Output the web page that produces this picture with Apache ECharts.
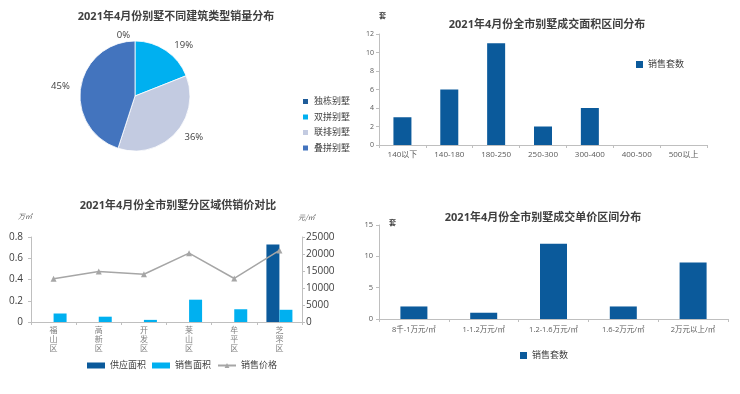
<!DOCTYPE html>
<html><head><meta charset="utf-8">
<script src="https://cdn.jsdelivr.net/npm/echarts@6/dist/echarts.min.js"></script>
<style>html,body{margin:0;padding:0;background:#fff}#c{width:740px;height:394px}</style>
</head><body><div id="c"></div>
<script>
const pieNames = ['独栋别墅','双拼别墅','联排别墅','叠拼别墅'];
const pieValues = [0, 19, 36, 45];
const areaCats = ['140以下','140-180','180-250','250-300','300-400','400-500','500以上'];
const areaSales = [3, 6, 11, 2, 4, 0, 0];
const districts = ['福山区','高新区','开发区','莱山区','牟平区','芝罘区'];
const supplyArea = [0, 0, 0, 0, 0, 0.73];
const salesArea = [0.08, 0.05, 0.02, 0.21, 0.12, 0.115];
const salesPrice = [12700, 14850, 14050, 20250, 12800, 21050];
const priceCats = ['8千-1万元/㎡','1-1.2万元/㎡','1.2-1.6万元/㎡','1.6-2万元/㎡','2万元以上/㎡'];
const priceSales = [2, 1, 12, 2, 9];

const FF = '"Open Sans","Noto Sans CJK SC",sans-serif';
const DARK = '#0b5a9b', CYAN = '#00b0f0', GREY = '#a6a6a6', AX = '#bfbfbf', TXT = '#595959';
const pieColors = ['#1f5c99', '#00b0f0', '#c3cbe1', '#4374be'];

const chart = echarts.init(document.getElementById('c'));
const titleStyle = {fontSize: 11, fontWeight: 'bold', color: '#404040', fontFamily: FF};
const axisLine = {show: true, lineStyle: {color: AX}};
const axisTick = {show: true, lineStyle: {color: AX}, length: 3};

chart.setOption({
  backgroundColor: '#fff',
  textStyle: {fontFamily: FF},
  title: [
    {text: '2021年4月份别墅不同建筑类型销量分布', left: 171, top: 6, textAlign: 'center', textStyle: titleStyle},
    {text: '2021年4月份全市别墅成交面积区间分布', left: 542, top: 14, textAlign: 'center', textStyle: titleStyle},
    {text: '2021年4月份全市别墅分区域供销价对比', left: 173, top: 195, textAlign: 'center', textStyle: titleStyle},
    {text: '2021年4月份全市别墅成交单价区间分布', left: 538, top: 207, textAlign: 'center', textStyle: titleStyle}
  ],
  graphic: [
    {type: 'text', left: 379, top: 12, style: {text: '套', fill: '#404040', font: 'bold 7px "Noto Sans CJK SC"'}},
    {type: 'text', left: 389, top: 219, style: {text: '套', fill: '#404040', font: 'bold 7px "Noto Sans CJK SC"'}},
    {type: 'text', left: 18, top: 213, style: {text: '万㎡', fill: '#595959', font: 'italic 7px "Noto Sans CJK SC"'}},
    {type: 'text', left: 298, top: 214, style: {text: '元/㎡', fill: '#595959', font: 'italic 7px "Noto Sans CJK SC"'}}
  ],
  legend: [
    {data: pieNames, orient: 'vertical', left: 296, top: 92, itemWidth: 7, itemHeight: 7, itemGap: 6.5,
     icon: 'rect', textStyle: {fontSize: 9, color: '#404040', fontFamily: FF}},
    {data: ['销售套数'], left: 631, top: 55, itemWidth: 7, itemHeight: 7, icon: 'rect',
     textStyle: {fontSize: 9, color: '#404040', fontFamily: FF}},
    {data: [{name: '供应面积', icon: 'rect'}, {name: '销售面积', icon: 'rect'}, {name: '销售价格'}],
     left: 82, top: 356, itemWidth: 18, itemHeight: 6, itemGap: 6,
     textStyle: {fontSize: 9, color: '#404040', fontFamily: FF}},
    {data: [{name: '销售套数 ', icon: 'rect'}], left: 515, top: 346, itemWidth: 7, itemHeight: 7,
     textStyle: {fontSize: 9, color: '#404040', fontFamily: FF}}
  ],
  grid: [
    {left: 379, right: 33, top: 34, bottom: 249},
    {left: 31, right: 438, top: 237, bottom: 72},
    {left: 379, right: 12, top: 225, bottom: 75}
  ],
  xAxis: [
    {type: 'category', gridIndex: 0, data: areaCats, axisLine: axisLine, axisTick: {show: true, lineStyle: {color: AX}, length: 3},
     axisLabel: {fontSize: 8, color: TXT, margin: 6, interval: 0}},
    {type: 'category', gridIndex: 1, data: districts, axisLine: axisLine, axisTick: {show: true, lineStyle: {color: AX}, length: 3},
     axisLabel: {fontSize: 8, color: '#7f7f7f', margin: 4, interval: 0, lineHeight: 9, formatter: v => v.split('').join('\n')}},
    {type: 'category', gridIndex: 2, data: priceCats, axisLine: axisLine, axisTick: {show: true, lineStyle: {color: AX}, length: 3},
     axisLabel: {fontSize: 7.5, color: TXT, margin: 7, interval: 0}}
  ],
  yAxis: [
    {type: 'value', gridIndex: 0, min: 0, max: 12, interval: 2, axisLine: axisLine, axisTick: axisTick, splitLine: {show: false},
     axisLabel: {fontSize: 7, color: TXT, margin: 5}},
    {type: 'value', gridIndex: 1, min: 0, max: 0.8, interval: 0.2, axisLine: axisLine, axisTick: axisTick, splitLine: {show: false},
     axisLabel: {fontSize: 10, color: '#404040', margin: 8, formatter: v => v === 0 ? '0' : v.toFixed(1)}},
    {type: 'value', gridIndex: 1, position: 'right', min: 0, max: 25000, interval: 5000, axisLine: axisLine, axisTick: axisTick, splitLine: {show: false},
     axisLabel: {fontSize: 10, color: '#404040', margin: 4, formatter: v => String(v)}},
    {type: 'value', gridIndex: 2, min: 0, max: 15, interval: 5, axisLine: axisLine, axisTick: axisTick, splitLine: {show: false},
     axisLabel: {fontSize: 7.5, color: TXT, margin: 6}}
  ],
  series: [
    {type: 'pie', center: [135, 96], radius: 55, startAngle: 90, clockwise: true, percentPrecision: 0,
     data: pieNames.map((n, i) => ({name: n, value: pieValues[i], itemStyle: {color: pieColors[i]}})),
     itemStyle: {borderColor: '#fff', borderWidth: 0.8},
     label: {show: true, position: 'outside', formatter: '{d}%', fontSize: 9.5, color: '#404040', fontFamily: FF},
     labelLine: {show: false, length: 6, length2: 0},
     emphasis: {disabled: true}, animation: false},
    {type: 'bar', name: '销售套数', xAxisIndex: 0, yAxisIndex: 0, data: areaSales, barWidth: 18,
     itemStyle: {color: DARK}, animation: false},
    {type: 'bar', name: '供应面积', xAxisIndex: 1, yAxisIndex: 1, data: supplyArea, barWidth: 13, barGap: '0%',
     itemStyle: {color: DARK}, animation: false},
    {type: 'bar', name: '销售面积', xAxisIndex: 1, yAxisIndex: 1, data: salesArea, barWidth: 13, barGap: '0%',
     itemStyle: {color: CYAN}, animation: false},
    {type: 'line', name: '销售价格', xAxisIndex: 1, yAxisIndex: 2, data: salesPrice, symbol: 'triangle', symbolSize: 6,
     lineStyle: {color: GREY, width: 1.5}, itemStyle: {color: GREY}, animation: false},
    {type: 'bar', name: '销售套数 ', xAxisIndex: 2, yAxisIndex: 3, data: priceSales, barWidth: 27,
     itemStyle: {color: DARK}, animation: false}
  ]
});
</script></body></html>
